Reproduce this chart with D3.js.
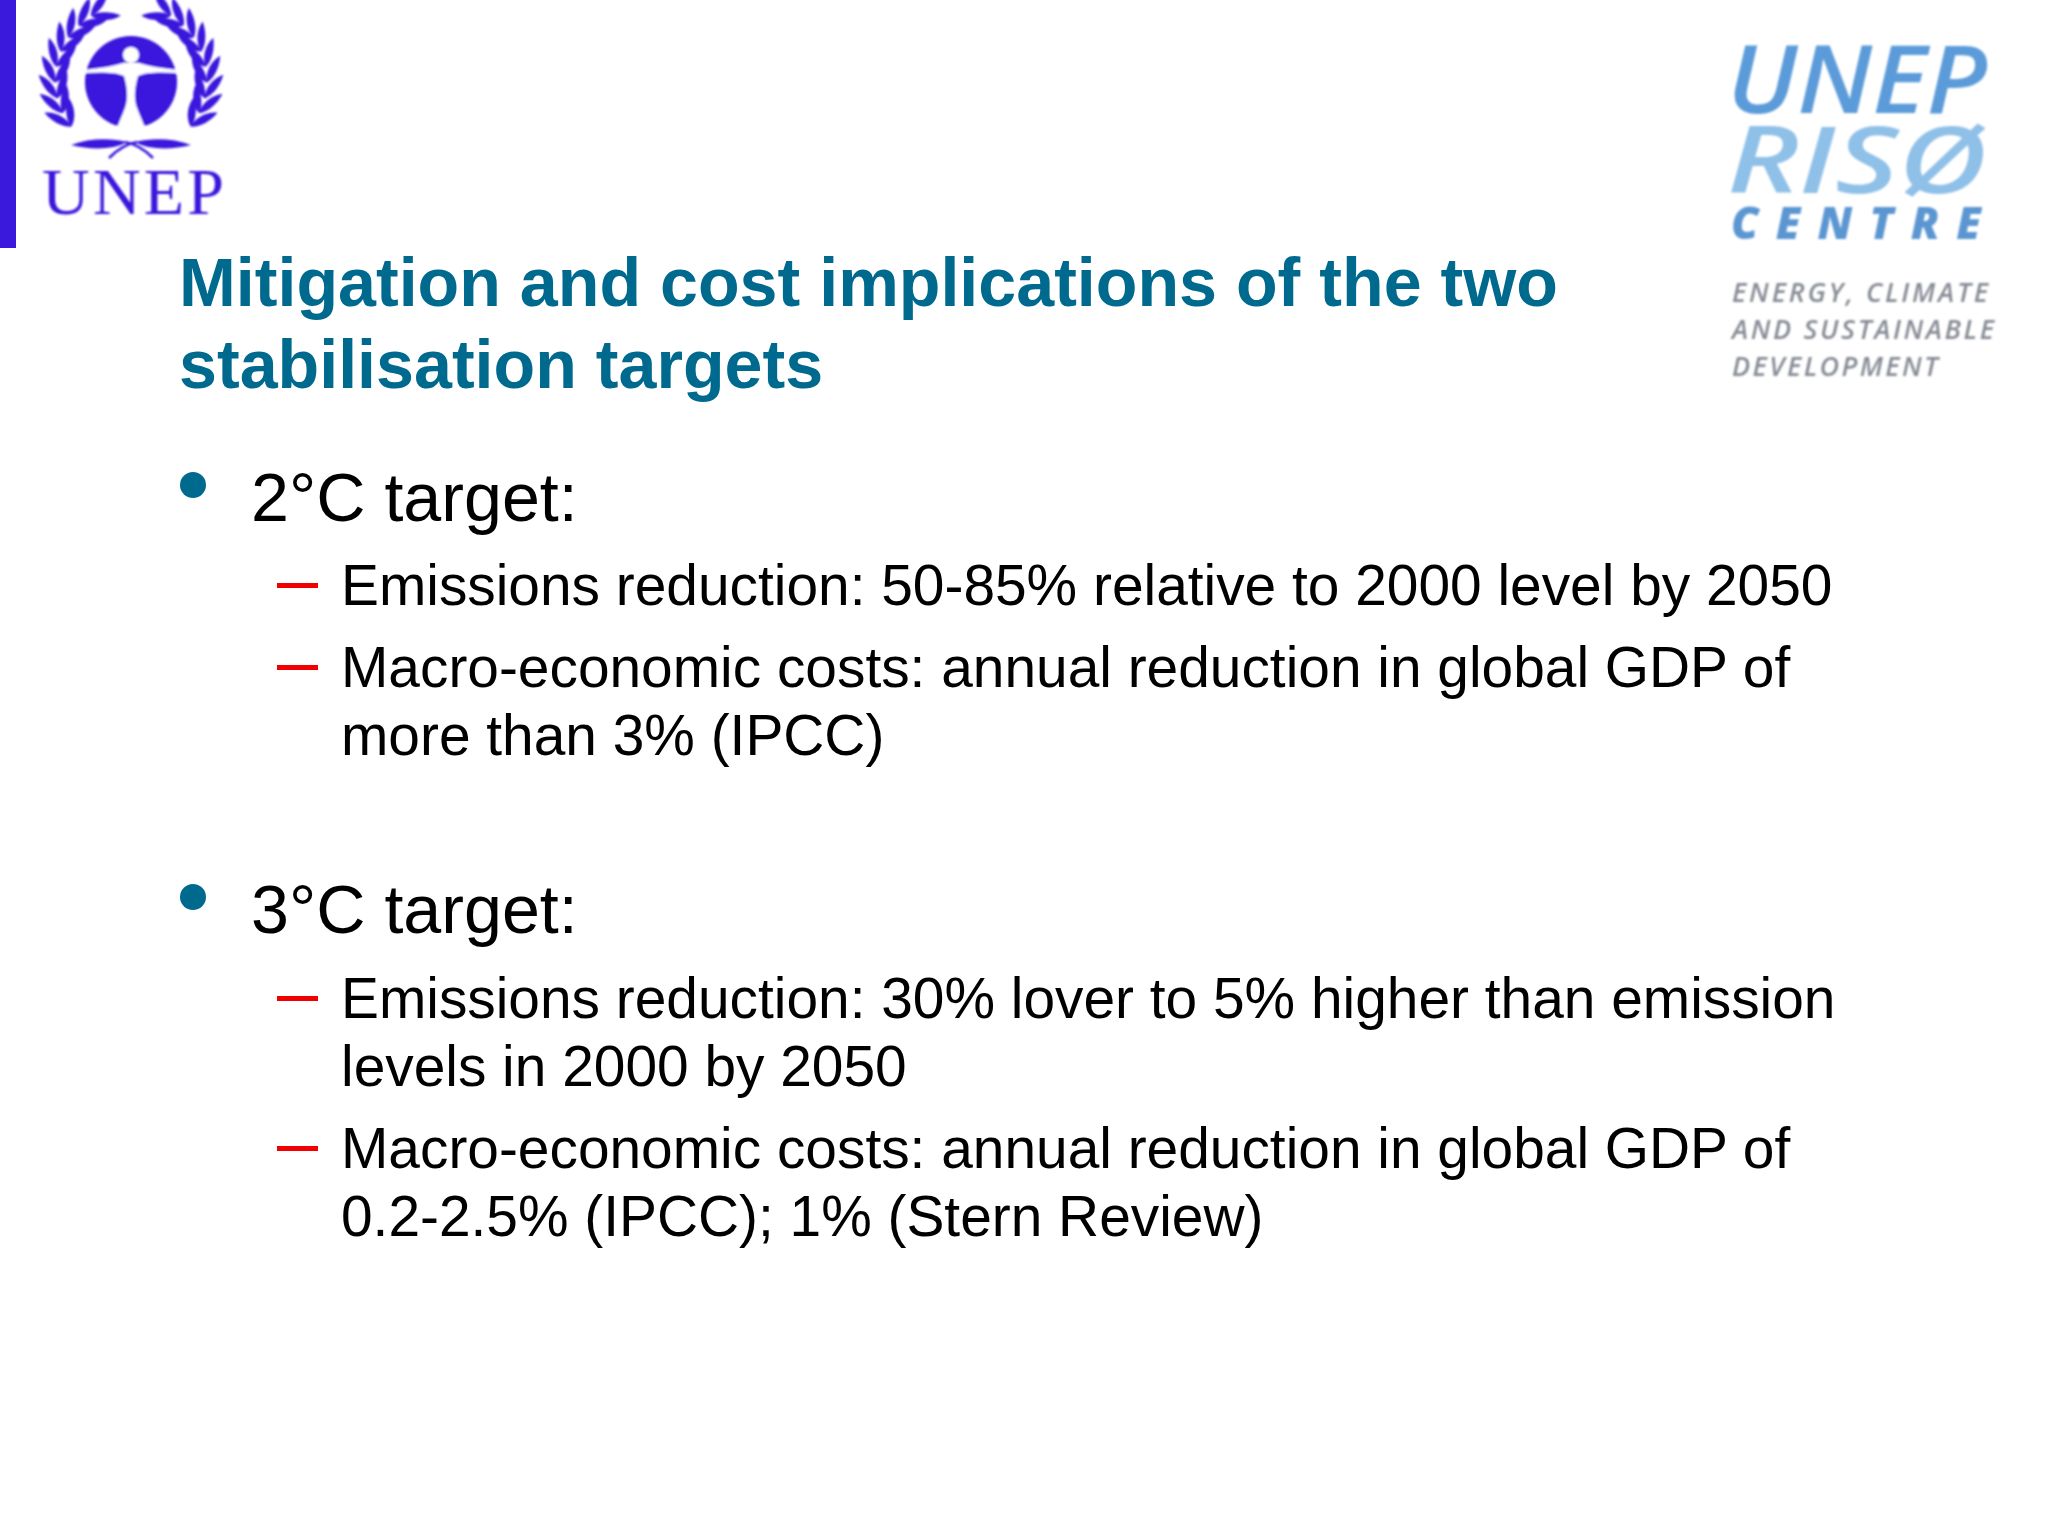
<!DOCTYPE html>
<html>
<head>
<meta charset="utf-8">
<title>Mitigation and cost implications</title>
<script src="https://cdn.jsdelivr.net/npm/d3@7"></script>
<style>
  html, body { margin: 0; padding: 0; background: #fff; }
  svg { display: block; }
  text { font-family: "Liberation Sans", Arial, sans-serif; }
</style>
</head>
<body>
<div id="slide"></div>
<script>
// slide content
var titleLines = ["Mitigation and cost implications of the two", "stabilisation targets"];
var titleBaselines = [306, 388];
var bulletLabels = ["2°C target:", "3°C target:"];
var bulletBaselines = [521, 933];
var subLines = [
  "Emissions reduction: 50-85% relative to 2000 level by 2050",
  "Macro-economic costs: annual reduction in global GDP of",
  "more than 3% (IPCC)",
  "Emissions reduction: 30% lover to 5% higher than emission",
  "levels in 2000 by 2050",
  "Macro-economic costs: annual reduction in global GDP of",
  "0.2-2.5% (IPCC); 1% (Stern Review)"
];
var subBaselines = [605, 687, 755, 1018, 1086, 1168, 1236];
var dashRows = [0, 1, 3, 5];
var riskLines = ["ENERGY, CLIMATE", "AND SUSTAINABLE", "DEVELOPMENT"];
var riskBaselines = [302, 339, 376];
var riskWidths = [256, 262, 206];

var width = 2048, height = 1536;
var teal = "#006a8e", violet = "#3a18dc";

var svg = d3.select("#slide").append("svg")
  .attr("width", width).attr("height", height)
  .attr("viewBox", "0 0 " + width + " " + height);

svg.append("rect").attr("width", width).attr("height", height).attr("fill", "#fff");

// the logos are soft in the reference
svg.append("defs").append("filter").attr("id", "soft")
  .append("feGaussianBlur").attr("stdDeviation", 0.8);

// left side bar
svg.append("rect").attr("x", 0).attr("y", 0).attr("width", 16).attr("height", 248).attr("fill", violet);

// title
svg.selectAll(".title").data(titleLines).enter().append("text")
  .attr("class", "title")
  .attr("x", 179)
  .attr("y", function(d, i) { return titleBaselines[i]; })
  .attr("font-size", 68.2).attr("font-weight", "bold").attr("fill", teal)
  .text(function(d) { return d; });

// bullets
svg.selectAll(".bullet").data(bulletLabels).enter().append("circle")
  .attr("class", "bullet")
  .attr("cx", 193)
  .attr("cy", function(d, i) { return bulletBaselines[i] - 36; })
  .attr("r", 13).attr("fill", teal);

svg.selectAll(".head").data(bulletLabels).enter().append("text")
  .attr("class", "head")
  .attr("x", 251)
  .attr("y", function(d, i) { return bulletBaselines[i]; })
  .attr("font-size", 68.2).attr("fill", "#000")
  .text(function(d) { return d; });

svg.selectAll(".sub").data(subLines).enter().append("text")
  .attr("class", "sub")
  .attr("x", 341)
  .attr("y", function(d, i) { return subBaselines[i]; })
  .attr("font-size", 56.85).attr("fill", "#000")
  .text(function(d) { return d; });

svg.selectAll(".dash").data(dashRows).enter().append("rect")
  .attr("class", "dash")
  .attr("x", 277).attr("width", 41).attr("height", 5)
  .attr("y", function(d) { return subBaselines[d] - 22; })
  .attr("fill", "#f00000");

// UNEP emblem
var emblem = svg.append("g").attr("transform", "translate(131,82)").attr("filter", "url(#soft)");
emblem.append("circle").attr("r", 46).attr("fill", violet);

// figure in the globe
emblem.append("path")
  .attr("fill", "#fff")
  .attr("d", "M-47,-12 C-30,-14 -16,-16 -8,-19 L8,-19 C16,-16 30,-14 47,-12 L47,-9 C30,-10 14,-10 7,-6 C3,8 3,18 6,26 C9,34 12,40 14,46 L-14,46 C-12,40 -9,34 -6,26 C-3,18 -3,8 -7,-6 C-14,-10 -30,-10 -47,-9 Z");
emblem.append("circle").attr("cx", 0).attr("cy", -27).attr("r", 8).attr("fill", "#fff");

// laurel leaves, angle in degrees from the top, one pair per angle
var leafAngles = [32, 44, 56, 68, 80, 92, 104, 116, 128];
var leaf = "M0,0 C6,-6 20,-8 30,-2 C20,3 8,4 0,0 Z";
var wreath = svg.append("g").attr("transform", "translate(131,80)").attr("filter", "url(#soft)");
[1, -1].forEach(function(side) {
  var half = wreath.append("g").attr("transform", "scale(" + side + ",1)");
  leafAngles.forEach(function(a) {
    var t = a * Math.PI / 180, r = 76;
    var x = r * Math.sin(t), y = -r * Math.cos(t);
    var dir = Math.atan2(-Math.sin(t), -Math.cos(t)) * 180 / Math.PI;
    [-28, 28].forEach(function(spread) {
      half.append("path")
        .attr("d", leaf)
        .attr("fill", violet)
        .attr("transform", "translate(" + x + "," + y + ") rotate(" + (dir + spread) + ")");
    });
  });
  // long leaf and stem at the foot of the wreath
  half.append("path").attr("fill", violet)
    .attr("d", "M4,62 C20,58 42,58 60,65 C40,70 18,70 4,62 Z");
  half.append("path").attr("fill", "none").attr("stroke", violet).attr("stroke-width", 2.5)
    .attr("d", "M-6,62 C6,64 14,70 22,78");
});

svg.append("text")
  .attr("x", 42).attr("y", 214)
  .style("font-family", "Liberation Serif")
  .attr("font-size", 66).attr("fill", violet)
  .attr("textLength", 182).attr("lengthAdjust", "spacing")
  .attr("filter", "url(#soft)")
  .text("UNEP");

// Risoe centre logo
function logoText(str, x, y, size, w, fill, weight, adjust) {
  svg.append("text")
    .attr("x", x).attr("y", y)
    .style("font-family", "'Open Sans'").style("font-style", "italic")
    .attr("font-size", size).attr("font-weight", weight).attr("fill", fill)
    .attr("textLength", w).attr("lengthAdjust", adjust)
    .attr("filter", "url(#soft)")
    .text(str);
}
logoText("UNEP", 1727, 113, 95, 260, "#5b9bd9", 600, "spacingAndGlyphs");
logoText("RISØ", 1727, 193, 92, 260, "#8fc0e8", 600, "spacingAndGlyphs");
logoText("CENTRE", 1731, 239, 44, 250, "#5b96d2", 800, "spacing");
riskLines.forEach(function(s, i) {
  logoText(s, 1732, riskBaselines[i], 27, riskWidths[i], "#868b94", 600, "spacing");
});
</script>
</body>
</html>
